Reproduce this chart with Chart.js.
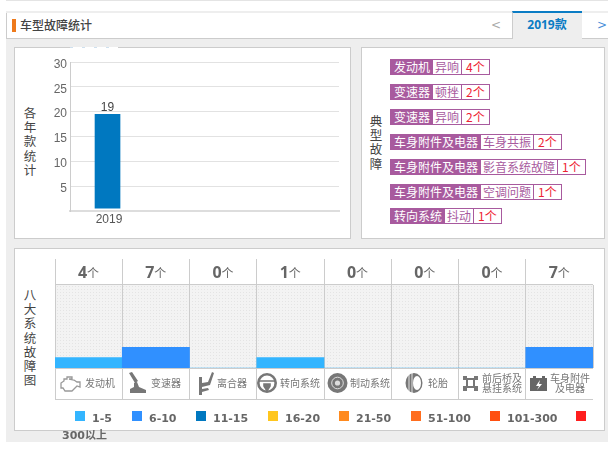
<!DOCTYPE html>
<html><head><meta charset="utf-8">
<script src="https://cdn.jsdelivr.net/npm/chart.js@4"></script>
<style>
html,body{margin:0;padding:0;background:#fff;overflow:hidden}
body{width:608px;height:450px;position:relative;font-family:"Noto Sans CJK SC","Noto Sans",sans-serif;color:#444}
.a{position:absolute;box-sizing:border-box}
.card{background:#fff;border:1px solid #ccc}
.v{width:14px;font-size:12.5px;line-height:14.2px;text-align:center;color:#444}
canvas{position:absolute;display:block}
.row{position:absolute;left:390px;display:flex;font-size:12px;line-height:14px;border:1px solid #a85a9e;box-sizing:content-box;height:14px;color:#a85a9e;white-space:nowrap}
.row b{font-weight:400;background:#a85a9e;color:#fff;padding:0 3px}
.row i{font-style:normal;padding:0 2px;border-right:1px solid #a85a9e}
.row u{text-decoration:none;color:#ee2233;padding:0 4px;letter-spacing:0}
.hd{position:absolute;top:259px;height:25px;width:67px;text-align:center;line-height:26px;font-family:"Open Sans";font-weight:700;font-size:16px;color:#666}
.hd span{font-family:"Noto Sans CJK SC";font-weight:400;font-size:12px}
.cat{position:absolute;top:369px;height:30px;width:67px}
.cat svg{position:absolute;left:0;top:0}
.cat div{position:absolute;font-size:10px;line-height:10px;color:#777;text-align:center;white-space:nowrap}
.lg{position:absolute;width:10px;height:10px;top:411px}
.lt{position:absolute;top:411px;font:700 11px/15px "DejaVu Sans","Noto Sans CJK SC";color:#666;white-space:nowrap}
</style></head><body>
<div class="a" style="left:6px;top:0;width:602px;height:1px;background:#e4e4e4"></div>
<div class="a" style="left:6px;top:11px;width:602px;height:431px;background:#eee"></div>
<div class="a" style="left:6px;top:13px;width:506px;height:26px;background:#fff;border:1px solid #ccc;border-width:0 0 1px 1px"></div>
<div class="a" style="left:581px;top:13px;width:27px;height:26px;background:#fff;border:1px solid #ccc;border-width:0 0 1px 1px"></div>
<div class="a" style="left:512px;top:11px;width:70px;height:28px;background:#eee;border-top:2px solid #0a7cc4;border-left:1px solid #ccc"></div>
<div class="a" style="left:12px;top:19px;width:4px;height:13px;background:#ee7a1c"></div>
<div class="a" style="left:20px;top:16px;font-size:12px;line-height:18px;font-weight:500;color:#444">车型故障统计</div>
<div class="a" style="left:491px;top:16px;font:12px/18px 'DejaVu Sans';color:#aaa">&lt;</div>
<div class="a" style="left:597px;top:16px;font:12px/18px 'DejaVu Sans';color:#4a90d9">&gt;</div>
<div class="a" style="left:513px;top:15px;width:68px;text-align:center;font:700 12px/20px 'Open Sans','Noto Sans CJK SC';color:#0a7cc4">2019款</div>

<div class="a card" style="left:14px;top:47px;width:337px;height:192px"></div>
<div class="a card" style="left:361px;top:47px;width:244px;height:192px"></div>
<div class="a card" style="left:14px;top:248px;width:591px;height:183px"></div>

<div class="a v" style="left:23px;top:106px">各<br>年<br>款<br>统<br>计</div>
<div class="a v" style="left:369px;top:114px">典<br>型<br>故<br>障</div>
<div class="a v" style="left:23px;top:288px">八<br>大<br>系<br>统<br>故<br>障<br>图</div>

<div class="a" style="left:70px;top:47px;width:48px;height:1px;background:repeating-linear-gradient(90deg,#cfe0ee 0 3px,#fff 3px 12px)"></div>

<div class="a" id="dots" style="left:56px;top:285px;width:537px;height:84px;background-color:#f3f3f3;background-image:radial-gradient(#e4e4e4 .6px,transparent .7px);background-size:3px 3px"></div>
<div class="a" style="left:55px;top:399px;width:538px;height:1px;background:#ccc"></div>

<canvas id="yearChart" style="left:15px;top:48px" width="335" height="190"></canvas>
<canvas id="sysChart" style="left:15px;top:249px" width="589" height="160"></canvas>
<div id="rows"></div>
<div id="heads"></div>
<div id="cats"></div>
<div id="legend"></div>

<script>
// ---- data ----
const years = [2019];
const yearFaults = [19];
const yearTicks = [5, 10, 15, 20, 25, 30];

const faultSystems = ['发动机','变速器','变速器','车身附件及电器','车身附件及电器','车身附件及电器','转向系统'];
const faultNames = ['异响','顿挫','异响','车身共振','影音系统故障','空调问题','抖动'];
const faultCounts = [4,2,2,2,1,1,1];

const systems = ['发动机','变速器','离合器','转向系统','制动系统','轮胎','前后桥及悬挂系统','车身附件及电器'];
const systemCounts = [4,7,0,1,0,0,0,7];

const bucketLabels = ['1-5','6-10','11-15','16-20','21-50','51-100','101-300','300以上'];
const bucketUpper = [5,10,15,20,50,100,300,Infinity];
const bucketColors = ['#33b5ff','#3090ff','#0078c0','#ffc61e','#ff8a1e','#ff6d1e','#ff4f10','#ff1e1e'];

// ---- styling helpers ----
const bucketLevel = v => v === 0 ? 0 : bucketUpper.findIndex(u => v <= u) + 1;
const FONT = '"Liberation Sans","Noto Sans CJK SC",sans-serif';

// The reference draws its bars and y labels slightly off the grid lines.
const yearExtras = {
  id:'yearExtras',
  beforeDatasetsDraw(c){c.ctx.save();c.ctx.translate(0,-2.4);},
  afterDatasetsDraw(c){
    const ctx=c.ctx, m=c.getDatasetMeta(0);
    m.data.forEach((b,i)=>{
      ctx.fillStyle='#444';ctx.font='12px '+FONT;ctx.textAlign='center';ctx.textBaseline='bottom';
      ctx.fillText(yearFaults[i],b.x,b.y-0.5);
    });
    ctx.restore();
  },
  afterDraw(c){
    const ctx=c.ctx,s=c.scales.y;
    ctx.save();ctx.fillStyle='#666';ctx.font='12px '+FONT;ctx.textAlign='right';ctx.textBaseline='middle';
    yearTicks.forEach(v=>ctx.fillText(v,s.right-3,s.getPixelForValue(v)+2.5));
    ctx.restore();
  }
};

new Chart(document.getElementById('yearChart'),{
  type:'bar',
  data:{datasets:[{data:years.map((y,i)=>({x:y,y:yearFaults[i]})),backgroundColor:'#0078c0',barThickness:25}]},
  options:{
    responsive:false,animation:false,
    layout:{padding:{left:0,right:11,top:14,bottom:0}},
    plugins:{legend:{display:false},tooltip:{enabled:false}},
    scales:{
      x:{type:'linear',offset:false,min:2018,max:2025.17,
        afterBuildTicks(s){s.ticks=years.map(v=>({value:v}));},
        afterFit(s){s.height=27;},
        grid:{display:true,drawTicks:false,drawOnChartArea:false},
        border:{color:'#ddd',width:2},
        ticks:{color:'#555',font:{size:12,family:FONT},padding:1,labelOffset:1.5,maxRotation:0,callback:v=>String(v)}},
      y:{min:0,max:30,
        afterBuildTicks(s){s.ticks=yearTicks.map(v=>({value:v}));},
        afterFit(s){s.width=55;},
        grid:{color:'#e2e2e2',drawTicks:false,lineWidth:1},
        border:{color:'#ccc',width:1},
        ticks:{display:false}}
    }
  },
  plugins:[yearExtras]
});

new Chart(document.getElementById('sysChart'),{
  type:'bar',
  data:{labels:systems,datasets:[{
    data:systemCounts.map(bucketLevel),
    backgroundColor:systemCounts.map(v=>bucketColors[Math.max(bucketLevel(v)-1,0)]),
    barPercentage:1,categoryPercentage:1}]},
  options:{
    responsive:false,animation:false,
    layout:{padding:{left:40,right:11,top:36,bottom:0}},
    plugins:{legend:{display:false},tooltip:{enabled:false}},
    scales:{
      x:{grid:{display:true,color:'#ccc',drawTicks:false,offset:true},border:{display:false},ticks:{display:false},afterFit(s){s.height=41;}},
      y:{min:0,max:8,afterFit(s){s.width=0;},grid:{display:false},border:{display:false},ticks:{display:false}}
    }
  },
  plugins:[{
    id:'frame',
    afterDraw(c){
      const a=c.chartArea,x=c.ctx;x.save();x.strokeStyle='#ccc';x.lineWidth=1;
      x.beginPath();
      x.moveTo(a.left,a.top-.5);x.lineTo(a.right,a.top-.5);
      x.moveTo(a.left,a.bottom+.5);x.lineTo(a.right,a.bottom+.5);
      x.stroke();x.restore();
    }
  }]
});

// ---- typical faults list ----
const rowsEl=document.getElementById('rows');
faultSystems.forEach((s,i)=>{
  const d=document.createElement('div');d.className='row';d.style.top=Math.round(59+i*24.9)+'px';
  d.innerHTML=`<b>${s}</b><i>${faultNames[i]}</i><u>${faultCounts[i]}个</u>`;
  rowsEl.appendChild(d);
});

// ---- system header counts, grid stubs ----
const colX=i=>55+i*67.25;
const heads=document.getElementById('heads');
systemCounts.forEach((v,i)=>{
  const d=document.createElement('div');d.className='hd';d.style.left=colX(i)+'px';
  d.innerHTML=`${v}<span>个</span>`;heads.appendChild(d);
  const x=Math.floor(colX(i));
  const l=document.createElement('div');l.className='a';
  l.style.cssText=`left:${x}px;top:259px;width:1px;height:25px;background:#ccc`;
  heads.appendChild(l);
  const b=document.createElement('div');b.className='a';
  b.style.cssText=`left:${x}px;top:369px;width:1px;height:31px;background:#ccc`;
  heads.appendChild(b);
});

// ---- system icons + names ----
const icon={
 engine:'<path d="M6 14l3-2v-2h3V8h5v2h-3l5 1 3 2h3v5l-3-1-3 3-2 2H10l-2-3H6z" fill="none" stroke="#999" stroke-width="1.3"/>',
 gear:'<path d="M7 4l3-1 6 9-3 2zM12 14l3-1 2 5 7 3v3H8v-4l4-2z" fill="#777"/>',
 clutch:'<path d="M10 8h3v18h-3zM13 14l6-1 4-10 2 1-4 12-8 2zM13 20l6-1 1 2-7 2z" fill="#777"/>',
 wheel:'<circle cx="11" cy="14" r="8.7" fill="none" stroke="#777" stroke-width="2.6"/><path d="M3 12h16M8 15h6v2l-3 5-3-5z" stroke="#777" stroke-width="1.6" fill="#777"/>',
 disc:'<circle cx="13.5" cy="14" r="10" fill="#777"/><circle cx="13.5" cy="14" r="5.8" fill="none" stroke="#ddd" stroke-width="1"/><circle cx="13.5" cy="14" r="2.6" fill="#ddd"/>',
 tire:'<ellipse cx="23" cy="14" rx="8.5" ry="10" fill="#777"/><ellipse cx="26" cy="14" rx="4" ry="7" fill="#fff"/><path d="M18 6v16M21 4v20" stroke="#fff" stroke-width=".8"/>',
 axle:'<path d="M5 7h4v2h7V7h4v4h-3v6h3v5h-4v-3H9v3H5v-5h3v-6H5z" fill="#777"/><path d="M10 11h5v6h-5z" fill="#fff"/>',
 battery:'<path d="M5 9h3V7h3v2h6V7h3v2h2v13H5z" fill="#666"/><path d="M15 11l-4 6h3l-2 4 5-6h-3z" fill="#fff"/>'
};
const catDefs=[
 [icon.engine,[['发动机',30,9]]],
 [icon.gear,[['变速器',29,9]]],
 [icon.clutch,[['离合器',28,9]]],
 [icon.wheel,[['转向系统',24,9]]],
 [icon.disc,[['制动系统',26,9]]],
 [icon.tire,[['轮胎',37,9]]],
 [icon.axle,[['前后桥及',24,4],['悬挂系统',24,14]]],
 [icon.battery,[['车身附件',25,4],['及电器',30,14]]]
];
const cats=document.getElementById('cats');
catDefs.forEach((c,i)=>{
  const d=document.createElement('div');d.className='cat';d.style.left=Math.floor(colX(i))+'px';
  d.innerHTML=`<svg width="40" height="30" viewBox="0 0 40 30">${c[0]}</svg>`+
    c[1].map(t=>`<div style="left:${t[1]}px;top:${t[2]}px">${t[0]}</div>`).join('');
  cats.appendChild(d);
});

// ---- legend ----
const legendPos=[[75,92],[132,149],[196,213],[268,285],[339,356],[411,428],[490,507],[576,null]];
const lg=document.getElementById('legend');
bucketLabels.forEach((t,i)=>{
  const [sx,tx]=legendPos[i];
  const s=document.createElement('div');s.className='lg';s.style.left=sx+'px';s.style.background=bucketColors[i];lg.appendChild(s);
  const l=document.createElement('div');l.className='lt';
  l.style.left=(tx===null?62:tx)+'px';l.style.top=(tx===null?428:411)+'px';l.textContent=t;lg.appendChild(l);
});
</script>
</body></html>
